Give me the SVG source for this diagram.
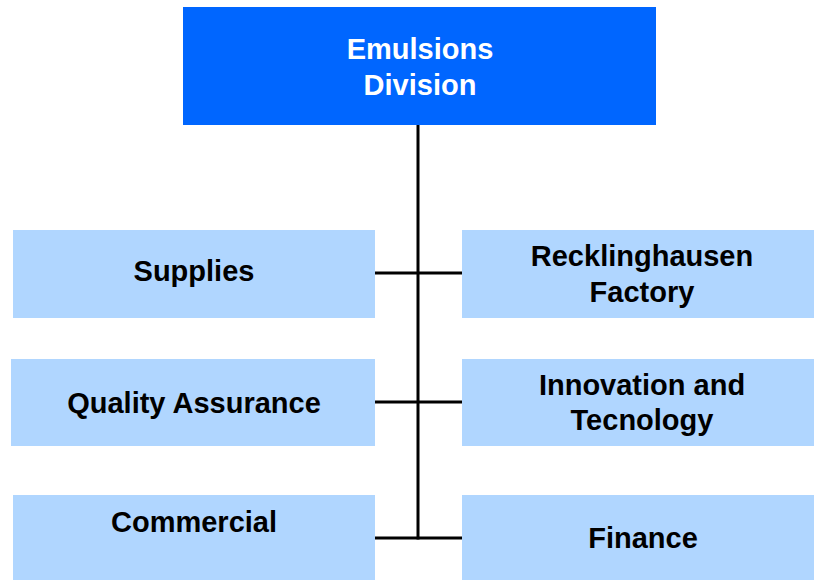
<svg xmlns="http://www.w3.org/2000/svg" width="814" height="580" viewBox="0 0 814 580">
<style>
.top{fill:#0066FF}
.box{fill:#B0D6FF}
.t{font-family:"Liberation Sans",Arial,sans-serif;font-weight:bold;font-size:29px;text-anchor:middle;fill:#000}
.w{fill:#fff}
.c{stroke:#000;stroke-width:3;fill:none}
</style>
<rect width="814" height="580" fill="#fff"/>
<g id="connectors">
<line class="c" x1="418" y1="125" x2="418" y2="539.5"/>
<line class="c" x1="375" y1="273" x2="462" y2="273"/>
<line class="c" x1="375" y1="402" x2="462" y2="402"/>
<line class="c" x1="375" y1="538" x2="462" y2="538"/>
</g>
<g id="emulsions">
<rect class="top" x="183" y="7" width="473" height="118"/>
<text class="t w" x="420" y="59">Emulsions</text>
<text class="t w" x="420" y="95">Division</text>
</g>
<g id="supplies">
<rect class="box" x="13" y="230" width="362" height="88"/>
<text class="t" x="194" y="281">Supplies</text>
</g>
<g id="recklinghausen">
<rect class="box" x="462" y="230" width="352" height="88"/>
<text class="t" x="642" y="266">Recklinghausen</text>
<text class="t" x="642" y="302">Factory</text>
</g>
<g id="quality">
<rect class="box" x="11" y="359" width="364" height="87"/>
<text class="t" x="194" y="413">Quality Assurance</text>
</g>
<g id="innovation">
<rect class="box" x="462" y="359" width="352" height="87"/>
<text class="t" x="642" y="395">Innovation and</text>
<text class="t" x="642" y="430">Tecnology</text>
</g>
<g id="commercial">
<rect class="box" x="13" y="495" width="362" height="85"/>
<text class="t" x="194" y="532">Commercial</text>
</g>
<g id="finance">
<rect class="box" x="462" y="495" width="352" height="85"/>
<text class="t" x="643" y="548">Finance</text>
</g>
</svg>
